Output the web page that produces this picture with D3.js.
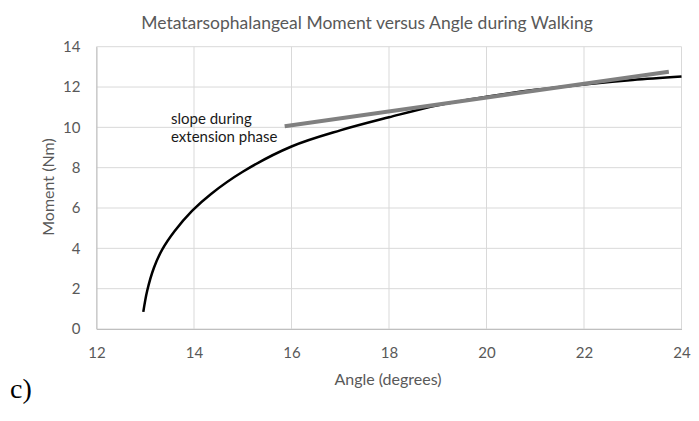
<!DOCTYPE html>
<html>
<head>
<meta charset="utf-8">
<script src="https://cdn.jsdelivr.net/npm/d3@7"></script>
<style>
  body { margin: 0; background: #fff; }
  text { font-family: Lato, "Liberation Sans", sans-serif; }
</style>
</head>
<body>
<script>
'use strict';

// measured moment curve (angle in degrees, moment in Nm)
const angle = [12.96, 13.04, 13.18, 13.35, 13.6, 13.96, 14.35, 15.0, 16.0, 17.0, 18.0, 19.0, 20.0, 21.0, 22.0, 23.0, 24.0];
const moment = [0.85, 1.9, 3.05, 3.95, 4.85, 5.86, 6.7, 7.8, 9.05, 9.85, 10.5, 11.1, 11.52, 11.86, 12.13, 12.35, 12.52];

// fitted slope during extension phase
const slopeAngle = [15.86, 23.74];
const slopeMoment = [10.05, 12.76];

const xTicks = [12, 14, 16, 18, 20, 22, 24];
const yTicks = [0, 2, 4, 6, 8, 10, 12, 14];

const titleText = "Metatarsophalangeal Moment versus Angle during Walking";
const xTitle = "Angle (degrees)";
const yTitle = "Moment (Nm)";
const noteLines = ["slope during", "extension phase"];
const panelLabel = "c)";

const width = 699, height = 421;
const plot = { left: 96.5, right: 681.5, top: 46.7, bottom: 329 };

const svg = d3.select('body').append('svg')
  .attr('width', width)
  .attr('height', height);

const xScale = d3.scaleLinear().domain([12, 24]).range([plot.left, plot.right]);
const yScale = d3.scaleLinear().domain([0, 14]).range([plot.bottom, plot.top]);

// gridlines
svg.append('g').selectAll('line')
  .data(xTicks)
  .enter().append('line')
    .attr('x1', d => xScale(d)).attr('x2', d => xScale(d))
    .attr('y1', plot.top).attr('y2', plot.bottom)
    .attr('stroke', '#d9d9d9').attr('stroke-width', 1);

svg.append('g').selectAll('line')
  .data(yTicks)
  .enter().append('line')
    .attr('x1', plot.left).attr('x2', plot.right)
    .attr('y1', d => yScale(d)).attr('y2', d => yScale(d))
    .attr('stroke', '#d9d9d9').attr('stroke-width', 1);

// axes: tick labels only, the lines come from the grid
const gx = svg.append('g')
  .attr('transform', `translate(0, ${plot.bottom})`)
  .call(d3.axisBottom(xScale).tickValues(xTicks).tickSize(0).tickPadding(18));
gx.select('.domain').attr('stroke', '#bfbfbf');

const gy = svg.append('g')
  .attr('transform', `translate(${plot.left}, 0)`)
  .call(d3.axisLeft(yScale).tickValues(yTicks).tickSize(0).tickPadding(16));
gy.select('.domain').attr('stroke', '#bfbfbf');

svg.selectAll('.tick text')
  .attr('fill', '#595959')
  .style('font-size', '15px')
  .style('font-family', 'Lato, sans-serif');

// moment curve
const points = angle.map((a, i) => [a, moment[i]]);
const line = d3.line()
  .x(d => xScale(d[0]))
  .y(d => yScale(d[1]))
  .curve(d3.curveCatmullRom.alpha(0.5));

svg.append('path')
  .datum(points)
  .attr('d', line)
  .attr('fill', 'none')
  .attr('stroke', '#000')
  .attr('stroke-width', 2.5);

// slope line sits on top of the curve
const slopePts = slopeAngle.map((a, i) => [a, slopeMoment[i]]);
svg.append('path')
  .datum(slopePts)
  .attr('d', d3.line().x(d => xScale(d[0])).y(d => yScale(d[1])))
  .attr('fill', 'none')
  .attr('stroke', '#808080')
  .attr('stroke-width', 4);

// title
svg.append('text')
  .attr('x', 367)
  .attr('y', 29)
  .attr('text-anchor', 'middle')
  .attr('fill', '#595959')
  .style('font-size', '17.5px')
  .text(titleText);

// axis titles
svg.append('text')
  .attr('x', 388)
  .attr('y', 385)
  .attr('text-anchor', 'middle')
  .attr('fill', '#595959')
  .style('font-size', '16px')
  .text(xTitle);

svg.append('text')
  .attr('transform', 'translate(54, 187) rotate(-90)')
  .attr('text-anchor', 'middle')
  .attr('fill', '#595959')
  .style('font-size', '16px')
  .text(yTitle);

// annotation
svg.append('text')
  .attr('y', 124)
  .attr('fill', '#1a1a1a')
  .style('font-size', '15px')
  .selectAll('tspan')
  .data(noteLines)
  .enter().append('tspan')
    .attr('x', 171)
    .attr('dy', (d, i) => i === 0 ? 0 : 18)
    .text(d => d);

// panel label
svg.append('text')
  .attr('x', 10)
  .attr('y', 398)
  .attr('fill', '#000')
  .style('font-family', '"Liberation Serif", "Times New Roman", serif')
  .style('font-size', '28px')
  .text(panelLabel);
</script>
</body>
</html>
